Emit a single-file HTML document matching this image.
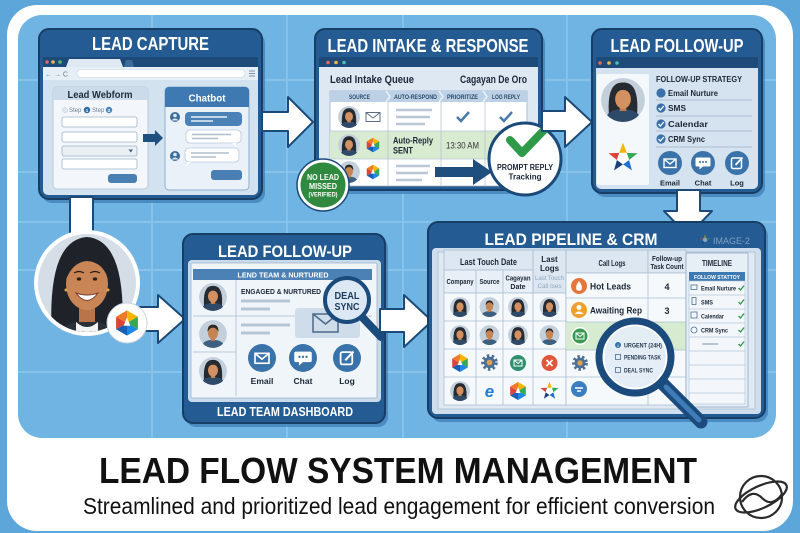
<!DOCTYPE html>
<html><head><meta charset="utf-8"><style>
html,body{margin:0;padding:0;background:#5ca6da;}
svg{display:block;}
text{font-family:"Liberation Sans",Arial,sans-serif;}
</style></head><body>
<svg width="800" height="533" viewBox="0 0 800 533" xmlns="http://www.w3.org/2000/svg">
<defs>
<clipPath id="cc"><circle r="12"/></clipPath>
<symbol id="w" viewBox="-12 -12 24 24"><g clip-path="url(#cc)">
<circle r="12" fill="#c3d0dc"/>
<path d="M-7.5 10 Q-9.5 -10 0 -9.5 Q9.5 -10 7.5 10 Z" fill="#262a31"/>
<path d="M-10 13 Q-10 5 0 5 Q10 5 10 13 Z" fill="#2f4a68"/>
<rect x="-1.8" y="2" width="3.6" height="4" fill="#c27c4b"/>
<ellipse cx="0" cy="-0.5" rx="4.3" ry="5.3" fill="#d39060"/>
<path d="M-4.6 -2 Q-4 -8 0 -7.5 Q4 -8 4.6 -2 Q3 -5.5 0 -5.5 Q-3 -5.5 -4.6 -2Z" fill="#262a31"/>
</g></symbol>
<symbol id="m" viewBox="-12 -12 24 24"><g clip-path="url(#cc)">
<circle r="12" fill="#c3d0dc"/>
<path d="M-10 13 Q-10 5 0 5 Q10 5 10 13 Z" fill="#3d5f80"/>
<rect x="-1.8" y="2" width="3.6" height="4" fill="#b8784a"/>
<ellipse cx="0" cy="-0.5" rx="4.3" ry="5.3" fill="#c68452"/>
<path d="M-4.6 -1.5 Q-5 -8 0 -8 Q5 -8 4.6 -1.5 Q3 -5.5 0 -5.5 Q-3 -5.5 -4.6 -1.5Z" fill="#2e2620"/>
</g></symbol>
<symbol id="hx" viewBox="-10 -10 20 20">
<path d="M0 0L0 -9L7.8 -4.5Z" fill="#f4b400"/>
<path d="M0 0L7.8 -4.5L7.8 4.5Z" fill="#34a853"/>
<path d="M0 0L7.8 4.5L0 9Z" fill="#1e88e5"/>
<path d="M0 0L0 9L-7.8 4.5Z" fill="#1a5fb4"/>
<path d="M0 0L-7.8 4.5L-7.8 -4.5Z" fill="#db4437"/>
<path d="M0 0L-7.8 -4.5L0 -9Z" fill="#ef7a2a"/>
<path d="M0 -4 L2.4 2 L-2.4 2Z" fill="#fff"/>
</symbol>
<symbol id="st" viewBox="-10.5 -10.5 21 21">
<path d="M-2.47 -3.4L0 -10L2.47 -3.4Z" fill="#f4b400"/>
<path d="M2.47 -3.4L9.51 -3.09L3.99 1.3Z" fill="#34a853"/>
<path d="M3.99 1.3L5.88 8.09L0 4.2Z" fill="#1e6fcf"/>
<path d="M0 4.2L-5.88 8.09L-3.99 1.3Z" fill="#1a3f7a"/>
<path d="M-3.99 1.3L-9.51 -3.09L-2.47 -3.4Z" fill="#db4437"/>
<path d="M-2.47 -3.4L2.47 -3.4L3.99 1.3L0 4.2L-3.99 1.3Z" fill="#fff"/>
</symbol>
<symbol id="gr" viewBox="-10 -10 20 20">
<circle r="7" fill="none" stroke="#4a6f96" stroke-width="3.5" stroke-dasharray="2.6 2.4"/>
<circle r="6" fill="#4a6f96"/><circle r="3" fill="#e0a050"/>
</symbol>
<symbol id="ce" viewBox="-12 -12 24 24"><circle r="12" fill="#3a72aa"/>
<rect x="-6" y="-4" width="12" height="8.5" fill="none" stroke="#fff" stroke-width="1.4"/><path d="M-6 -4 L0 1 L6 -4" fill="none" stroke="#fff" stroke-width="1.4"/></symbol>
<symbol id="cch" viewBox="-12 -12 24 24"><circle r="12" fill="#3a72aa"/>
<path d="M-6 -5.5 h12 a1.5 1.5 0 0 1 1.5 1.5 v6 a1.5 1.5 0 0 1 -1.5 1.5 h-6 l-3.5 3 v-3 h-2.5 a1.5 1.5 0 0 1 -1.5 -1.5 v-6 a1.5 1.5 0 0 1 1.5 -1.5z" fill="#fff"/>
<circle cx="-3" cy="-1" r="1" fill="#3a72aa"/><circle cx="0" cy="-1" r="1" fill="#3a72aa"/><circle cx="3" cy="-1" r="1" fill="#3a72aa"/></symbol>
<symbol id="cl" viewBox="-12 -12 24 24"><circle r="12" fill="#3a72aa"/>
<rect x="-5.5" y="-5" width="10" height="10.5" rx="1.5" fill="none" stroke="#fff" stroke-width="1.5"/><path d="M-1.5 2 L5.5 -5.5" stroke="#fff" stroke-width="1.8"/></symbol>
<clipPath id="bigc"><circle cx="87" cy="283" r="49"/></clipPath>
</defs>

<!-- background frame -->
<rect width="800" height="533" fill="#5ca6da"/>
<rect x="7" y="5" width="786" height="526" rx="30" fill="#ffffff"/>
<rect x="18" y="15" width="758" height="423" rx="24" fill="#70b4e3"/>
<g stroke="#8ec6ed" stroke-width="1.5">
<line x1="152" y1="15" x2="152" y2="438"/><line x1="287" y1="15" x2="287" y2="438"/>
<line x1="403" y1="15" x2="403" y2="438"/><line x1="567" y1="15" x2="567" y2="438"/>
<line x1="18" y1="80" x2="776" y2="80"/><line x1="18" y1="172" x2="776" y2="172"/>
<line x1="18" y1="222" x2="776" y2="222"/><line x1="18" y1="270" x2="776" y2="270"/>
<line x1="18" y1="372" x2="776" y2="372"/>
</g>

<!-- ===== LEAD CAPTURE ===== -->
<rect x="42" y="33" width="223" height="170" rx="10" fill="#3a7ab3" opacity=".7"/>
<rect x="39" y="29" width="223" height="170" rx="10" fill="#245b92" stroke="#173e66" stroke-width="2"/>
<text x="150.5" y="50" font-size="18" font-weight="bold" fill="#fff" text-anchor="middle" textLength="117" lengthAdjust="spacingAndGlyphs">LEAD CAPTURE</text>
<rect x="43" y="57" width="215" height="138" rx="5" fill="#d3e2ef"/>
<rect x="43" y="57" width="215" height="10" fill="#1d4a78"/>
<circle cx="47" cy="62" r="1.8" fill="#e36b5c"/><circle cx="53" cy="62" r="1.8" fill="#f0b84b"/><circle cx="60" cy="62" r="1.8" fill="#4cbf73"/>
<path d="M66 67 L69 59 L120 59 L123 67Z" fill="#dfe9f3"/>
<path d="M124 67 L126 60 L132 60 L134 67Z" fill="#3d6c9c"/>
<rect x="43" y="67" width="215" height="13" fill="#e6eef6"/>
<text x="45" y="76.5" font-size="7" fill="#6b7d90">← → C</text>
<rect x="77" y="69.5" width="168" height="8" rx="4" fill="#fff" stroke="#c5d3e0" stroke-width=".6"/>
<g stroke="#7d8fa3" stroke-width="1"><line x1="249" y1="71" x2="255" y2="71"/><line x1="249" y1="73.5" x2="255" y2="73.5"/><line x1="249" y1="76" x2="255" y2="76"/></g>
<!-- webform -->
<rect x="53" y="87" width="95" height="102" rx="4" fill="#f3f7fb" stroke="#b8cadb"/>
<path d="M53 100 V91 a4 4 0 0 1 4 -4 H144 a4 4 0 0 1 4 4 V100Z" fill="#cbdbea"/>
<text x="100" y="98" font-size="10.5" font-weight="bold" fill="#1e2b3a" text-anchor="middle" textLength="65" lengthAdjust="spacingAndGlyphs">Lead Webform</text>
<circle cx="65" cy="110" r="2.6" fill="#dfe6ee" stroke="#c0ccd8" stroke-width=".5"/>
<text x="69" y="112" font-size="6" fill="#6b7d90">Step</text>
<circle cx="87" cy="110" r="3.2" fill="#2f6aa3"/><text x="87" y="111.8" font-size="4.8" fill="#fff" text-anchor="middle" font-weight="bold">1</text>
<text x="92" y="112" font-size="6" fill="#6b7d90">Step</text>
<circle cx="109" cy="110" r="3.2" fill="#4a86bf"/><text x="109" y="111.8" font-size="4.8" fill="#fff" text-anchor="middle" font-weight="bold">2</text>
<g fill="#fff" stroke="#9fb3c7" stroke-width=".8">
<rect x="62" y="117" width="75" height="10" rx="2"/><rect x="62" y="132" width="75" height="10" rx="2"/>
<rect x="62" y="146" width="75" height="10" rx="2" fill="#e9eff5"/><rect x="62" y="159" width="75" height="10" rx="2"/>
</g>
<path d="M128.5 149.5 L133 149.5 L130.75 152.5Z" fill="#4a5d72"/>
<rect x="108" y="174" width="29" height="9" rx="3" fill="#4a7fb4"/>
<path d="M143 134 H155 V130 L163 138 L155 146 V142 H143Z" fill="#1f4f7f"/>
<!-- chatbot -->
<rect x="165" y="87" width="84" height="103" rx="4" fill="#eaf1f8" stroke="#8fb0cf"/>
<path d="M165 107 V91 a4 4 0 0 1 4 -4 H245 a4 4 0 0 1 4 4 V107Z" fill="#3f79b1"/>
<text x="207" y="101.5" font-size="10.5" font-weight="bold" fill="#fff" text-anchor="middle" textLength="37" lengthAdjust="spacingAndGlyphs">Chatbot</text>
<circle cx="175" cy="117" r="5" fill="#3e6d9a"/><circle cx="175" cy="115.5" r="1.8" fill="#dfe8f1"/><path d="M171.5 120.5 Q175 116.5 178.5 120.5Z" fill="#dfe8f1"/>
<rect x="185" y="112" width="57" height="14" rx="4" fill="#4a82b8"/>
<g stroke="#e8f0f8" stroke-width="1.4"><line x1="191" y1="117" x2="227" y2="117"/><line x1="191" y1="121" x2="213" y2="121"/></g>
<rect x="186" y="130" width="55" height="13" rx="4" fill="#fff" stroke="#b9cadb" stroke-width=".8"/>
<path d="M232 143 L236 147 L236 143Z" fill="#fff"/>
<g stroke="#b0bfce" stroke-width="1.4"><line x1="192" y1="134.5" x2="231" y2="134.5"/><line x1="192" y1="138.5" x2="218" y2="138.5"/></g>
<circle cx="175" cy="156" r="5" fill="#3e6d9a"/><circle cx="175" cy="154.5" r="1.8" fill="#dfe8f1"/><path d="M171.5 159.5 Q175 155.5 178.5 159.5Z" fill="#dfe8f1"/>
<rect x="185" y="148" width="54" height="14" rx="4" fill="#fff" stroke="#b9cadb" stroke-width=".8"/>
<path d="M187 162 L186 166 L191 162Z" fill="#fff"/>
<g stroke="#b0bfce" stroke-width="1.4"><line x1="191" y1="153" x2="229" y2="153"/><line x1="191" y1="157" x2="216" y2="157"/></g>
<rect x="211" y="170" width="31" height="10" rx="3" fill="#4a7fb4"/>

<!-- arrow 1 -->
<path d="M262 112 H288 V97 L313 122 L288 147 V131 H262Z" fill="#fff" stroke="#1b4a78" stroke-width="2" stroke-linejoin="round"/>

<!-- ===== LEAD INTAKE ===== -->
<rect x="318" y="33" width="227" height="161" rx="10" fill="#3a7ab3" opacity=".7"/>
<rect x="315" y="29" width="227" height="161" rx="10" fill="#245b92" stroke="#173e66" stroke-width="2"/>
<text x="428" y="52" font-size="18" font-weight="bold" fill="#fff" text-anchor="middle" textLength="201" lengthAdjust="spacingAndGlyphs">LEAD INTAKE &amp; RESPONSE</text>
<rect x="319" y="57" width="219" height="129" rx="5" fill="#dde8f3"/>
<rect x="319" y="57" width="219" height="10" fill="#1d4a78"/>
<circle cx="328" cy="62.5" r="1.8" fill="#e36b5c"/><circle cx="336" cy="62.5" r="1.8" fill="#f0b84b"/><circle cx="344" cy="62.5" r="1.8" fill="#4cbfb0"/>
<text x="330" y="83" font-size="11" font-weight="bold" fill="#1b2636" textLength="84" lengthAdjust="spacingAndGlyphs">Lead Intake Queue</text>
<text x="460" y="83" font-size="11" font-weight="bold" fill="#1b2636" textLength="67" lengthAdjust="spacingAndGlyphs">Cagayan De Oro</text>
<rect x="330" y="91" width="197" height="95" fill="#fff" stroke="#9db4cb" stroke-width=".8"/>
<rect x="330" y="91" width="197" height="11" fill="#bcd1e6"/>
<rect x="330" y="131" width="197" height="28" fill="#d8eacf"/>
<g stroke="#b6c6d6" stroke-width=".8"><line x1="388" y1="102" x2="388" y2="186"/><line x1="441" y1="102" x2="441" y2="186"/><line x1="485" y1="102" x2="485" y2="186"/>
<line x1="330" y1="131" x2="527" y2="131"/><line x1="330" y1="159" x2="527" y2="159"/></g>
<g fill="none" stroke="#f2f7fb" stroke-width="1.3"><path d="M386 91 L390 96.5 L386 102"/><path d="M439 91 L443 96.5 L439 102"/><path d="M483 91 L487 96.5 L483 102"/></g>
<g font-size="6" font-weight="bold" fill="#2c4b6c" text-anchor="middle">
<text x="359.5" y="98.8" textLength="21" lengthAdjust="spacingAndGlyphs">SOURCE</text>
<text x="415.5" y="98.8" textLength="43" lengthAdjust="spacingAndGlyphs">AUTO-RESPOND</text>
<text x="462.5" y="98.8" textLength="31" lengthAdjust="spacingAndGlyphs">PRIORITIZE</text>
<text x="506" y="98.8" textLength="28" lengthAdjust="spacingAndGlyphs">LOG REPLY</text>
</g>
<use href="#w" x="338" y="106" width="22" height="22"/>
<rect x="366" y="112.5" width="14" height="9" fill="#fff" stroke="#5a6f85" stroke-width="1"/><path d="M366 112.5 L373 118 L380 112.5" fill="none" stroke="#5a6f85" stroke-width="1"/>
<g stroke="#b9c7d6" stroke-width="2.5"><line x1="396" y1="110" x2="432" y2="110"/><line x1="396" y1="117" x2="430" y2="117"/><line x1="396" y1="124" x2="425" y2="124"/></g>
<g fill="none" stroke="#4a7aa8" stroke-width="2.5"><path d="M457 117 L461 121 L469 112"/><path d="M500 117 L504 121 L512 112"/></g>
<use href="#w" x="338" y="134" width="22" height="22"/>
<use href="#hx" x="365" y="137" width="16" height="16"/>
<text x="393" y="143.5" font-size="9.5" font-weight="bold" fill="#1b2636" textLength="40" lengthAdjust="spacingAndGlyphs">Auto-Reply</text>
<text x="393" y="153.5" font-size="9.5" font-weight="bold" fill="#1b2636" textLength="20" lengthAdjust="spacingAndGlyphs">SENT</text>
<text x="446" y="148.5" font-size="9.5" fill="#333" textLength="33" lengthAdjust="spacingAndGlyphs">13:30 AM</text>
<use href="#m" x="338" y="161" width="22" height="22"/>
<use href="#hx" x="365" y="164" width="16" height="16"/>
<g stroke="#b9c7d6" stroke-width="2.5"><line x1="396" y1="166" x2="430" y2="166"/><line x1="396" y1="173" x2="428" y2="173"/><line x1="396" y1="180" x2="422" y2="180"/></g>
<path d="M435 167 H473 V159 L492 172 L473 185 V177 H435Z" fill="#1f4f7f"/>
<!-- prompt reply -->
<circle cx="525" cy="159" r="36" fill="#fff" stroke="#1b4a78" stroke-width="3"/>
<path d="M510 140 L522 153 L547 127" fill="none" stroke="#2e9a48" stroke-width="8" stroke-linecap="round" stroke-linejoin="round"/>
<text x="525" y="170" font-size="8" font-weight="bold" fill="#1b2636" text-anchor="middle" textLength="56" lengthAdjust="spacingAndGlyphs">PROMPT REPLY</text>
<text x="525" y="179.5" font-size="8" font-weight="bold" fill="#1b2636" text-anchor="middle" textLength="33" lengthAdjust="spacingAndGlyphs">Tracking</text>
<!-- no lead missed -->
<circle cx="323" cy="185" r="26" fill="#fff" stroke="#1b4a78" stroke-width="1.5"/>
<circle cx="323" cy="185" r="22.5" fill="#2f8a3f"/>
<g font-weight="bold" fill="#fff" text-anchor="middle">
<text x="323" y="180" font-size="8.5" textLength="32" lengthAdjust="spacingAndGlyphs">NO LEAD</text>
<text x="323" y="189" font-size="8.5" textLength="28" lengthAdjust="spacingAndGlyphs">MISSED</text>
<text x="323" y="196.5" font-size="6.5" textLength="29" lengthAdjust="spacingAndGlyphs">(VERIFIED)</text>
</g>

<!-- arrow 2 -->
<path d="M542 111 H565 V97 L592 122 L565 147 V131 H542Z" fill="#fff" stroke="#1b4a78" stroke-width="2" stroke-linejoin="round"/>

<!-- ===== LEAD FOLLOW-UP (top) ===== -->
<rect x="595" y="33" width="170" height="164" rx="10" fill="#3a7ab3" opacity=".7"/>
<rect x="592" y="29" width="170" height="164" rx="10" fill="#245b92" stroke="#173e66" stroke-width="2"/>
<text x="677" y="52" font-size="18" font-weight="bold" fill="#fff" text-anchor="middle" textLength="133" lengthAdjust="spacingAndGlyphs">LEAD FOLLOW-UP</text>
<rect x="596" y="57" width="162" height="132" rx="5" fill="#d5e3f0"/>
<rect x="596" y="57" width="162" height="11" fill="#1d4a78"/>
<circle cx="600" cy="63" r="1.8" fill="#e36b5c"/><circle cx="609" cy="63" r="1.8" fill="#f0b84b"/><circle cx="617" cy="63" r="1.8" fill="#4cbfb0"/>
<rect x="597" y="74" width="52" height="111" rx="2" fill="#f5f8fb"/>
<use href="#w" x="601" y="78" width="44" height="44"/>
<use href="#st" x="607" y="142" width="32" height="32"/>
<text x="656" y="82" font-size="8" font-weight="bold" fill="#1b2636" textLength="86" lengthAdjust="spacingAndGlyphs">FOLLOW-UP STRATEGY</text>
<circle cx="661" cy="93" r="4.6" fill="#3a73ab"/>
<text x="668" y="96" font-size="8.5" font-weight="bold" fill="#1b2636" textLength="50" lengthAdjust="spacingAndGlyphs">Email Nurture</text>
<g fill="#3a73ab"><circle cx="661" cy="108" r="4.6"/><circle cx="661" cy="124" r="4.6"/><circle cx="661" cy="139" r="4.6"/></g>
<g fill="none" stroke="#fff" stroke-width="1.3"><path d="M658.5 108 L660.3 110 L663.8 106"/><path d="M658.5 124 L660.3 126 L663.8 122"/><path d="M658.5 139 L660.3 141 L663.8 137"/></g>
<text x="668" y="111" font-size="8.5" font-weight="bold" fill="#1b2636" textLength="18" lengthAdjust="spacingAndGlyphs">SMS</text>
<text x="668" y="127" font-size="8.5" font-weight="bold" fill="#1b2636" textLength="40" lengthAdjust="spacingAndGlyphs">Calendar</text>
<text x="668" y="142" font-size="8.5" font-weight="bold" fill="#1b2636" textLength="37" lengthAdjust="spacingAndGlyphs">CRM Sync</text>
<g stroke="#9fb3c8" stroke-width=".8"><line x1="656" y1="100" x2="752" y2="100"/><line x1="656" y1="116" x2="752" y2="116"/><line x1="656" y1="131" x2="752" y2="131"/><line x1="656" y1="147" x2="752" y2="147"/></g>
<use href="#ce" x="658" y="151" width="24" height="24"/>
<use href="#cch" x="691" y="151" width="24" height="24"/>
<use href="#cl" x="725" y="151" width="24" height="24"/>
<g font-size="7.5" font-weight="bold" fill="#1b2636" text-anchor="middle">
<text x="670" y="185.5">Email</text><text x="703" y="185.5">Chat</text><text x="737" y="185.5">Log</text></g>

<!-- arrow 3 down -->
<path d="M677 190 H700 V211 H712 L688 236 L664 211 H677Z" fill="#fff" stroke="#1b4a78" stroke-width="2" stroke-linejoin="round"/>

<!-- left connector + avatar -->
<rect x="70" y="197" width="23" height="42" fill="#fff" stroke="#1b4a78" stroke-width="2"/>
<path d="M138 307 H158 V295 L185 319 L158 343 V331 H138Z" fill="#fff" stroke="#1b4a78" stroke-width="2" stroke-linejoin="round"/>
<circle cx="87" cy="283" r="53" fill="#fff"/>
<g clip-path="url(#bigc)">
<rect x="36" y="232" width="102" height="102" fill="#d5dee7"/>
<path d="M52 340 Q46 240 87 237 Q128 240 122 340Z" fill="#1f2329"/>
<path d="M55 345 Q58 322 87 320 Q116 322 119 345Z" fill="#2a2f38"/>
<path d="M76 322 Q87 332 98 322 L98 340 L76 340Z" fill="#f2f2f2"/>
<rect x="79" y="300" width="16" height="22" fill="#b9744a"/>
<ellipse cx="87" cy="284" rx="21" ry="26" fill="#c98556"/>
<path d="M65 282 Q64 252 87 251 Q110 252 109 282 Q104 262 87 261 Q72 262 65 282Z" fill="#1f2329"/>
<ellipse cx="79" cy="279" rx="2.2" ry="1.6" fill="#2a1d18"/><ellipse cx="95" cy="279" rx="2.2" ry="1.6" fill="#2a1d18"/>
<path d="M74 273 Q79 270 84 273" fill="none" stroke="#2a1d18" stroke-width="1.2"/><path d="M90 273 Q95 270 100 273" fill="none" stroke="#2a1d18" stroke-width="1.2"/>
<path d="M76 293 Q87 308 98 293 Q87 297 76 293Z" fill="#fff" stroke="#7a3b2a" stroke-width="1"/>
<circle cx="66" cy="290" r="1.5" fill="#d9a84a"/><circle cx="108" cy="290" r="1.5" fill="#d9a84a"/>
</g>
<circle cx="127" cy="323" r="20" fill="#fff" stroke="#c9d4de" stroke-width="1"/>
<use href="#hx" x="113" y="309" width="28" height="28"/>

<!-- ===== LEAD FOLLOW-UP (bottom) ===== -->
<rect x="186" y="238" width="202" height="189" rx="10" fill="#3a7ab3" opacity=".7"/>
<rect x="183" y="234" width="202" height="189" rx="10" fill="#245b92" stroke="#173e66" stroke-width="2"/>
<text x="285" y="257" font-size="16.5" font-weight="bold" fill="#fff" text-anchor="middle" textLength="134" lengthAdjust="spacingAndGlyphs">LEAD FOLLOW-UP</text>
<rect x="188" y="260" width="193" height="142" rx="4" fill="#c9daea"/>
<rect x="191" y="263" width="186" height="135" rx="2" fill="#f0f5fa" stroke="#9bb3cb" stroke-width=".8"/>
<rect x="193" y="269" width="179" height="11" fill="#4c81b6"/>
<text x="283" y="277.5" font-size="7" font-weight="bold" fill="#fff" text-anchor="middle" textLength="91" lengthAdjust="spacingAndGlyphs">LEND TEAM &amp; NURTURED</text>
<g stroke="#a9bdd1" stroke-width=".8"><line x1="236" y1="280" x2="236" y2="396"/><line x1="193" y1="316" x2="372" y2="316"/><line x1="193" y1="352" x2="236" y2="352"/></g>
<use href="#w" x="199" y="283" width="28" height="28"/>
<use href="#m" x="199" y="320" width="28" height="28"/>
<use href="#w" x="199" y="357" width="28" height="28"/>
<text x="241" y="294" font-size="7.5" font-weight="bold" fill="#1b2636" textLength="80" lengthAdjust="spacingAndGlyphs">ENGAGED &amp; NURTURED</text>
<g stroke="#b6c6d6" stroke-width="3"><line x1="241" y1="301" x2="290" y2="301"/><line x1="241" y1="309" x2="270" y2="309"/><line x1="241" y1="325" x2="290" y2="325"/><line x1="241" y1="333" x2="270" y2="333"/></g>
<rect x="295" y="308" width="65" height="30" rx="3" fill="#cfdcea"/>
<rect x="313" y="314" width="25" height="18" fill="none" stroke="#4a6a8a" stroke-width="1.5"/><path d="M313 314 L325.5 324 L338 314" fill="none" stroke="#4a6a8a" stroke-width="1.5"/>
<use href="#ce" x="248" y="344" width="28" height="28"/>
<use href="#cch" x="289" y="344" width="28" height="28"/>
<use href="#cl" x="333" y="344" width="28" height="28"/>
<g font-size="8.5" font-weight="bold" fill="#1b2636" text-anchor="middle">
<text x="262" y="384">Email</text><text x="303" y="384">Chat</text><text x="347" y="384">Log</text></g>
<line x1="362" y1="317" x2="381" y2="337" stroke="#1b4a7c" stroke-width="8" stroke-linecap="round"/>
<circle cx="347" cy="300" r="22" fill="#dce8f4" stroke="#1b4a7c" stroke-width="4"/>
<g font-size="10" font-weight="bold" fill="#1b3a5c" text-anchor="middle">
<text x="347" y="299" textLength="25" lengthAdjust="spacingAndGlyphs">DEAL</text>
<text x="347" y="310" textLength="25" lengthAdjust="spacingAndGlyphs">SYNC</text></g>
<text x="285" y="416" font-size="13" font-weight="bold" fill="#fff" text-anchor="middle" textLength="136" lengthAdjust="spacingAndGlyphs">LEAD TEAM DASHBOARD</text>

<!-- arrow 4 -->
<path d="M380 309 H404 V295 L432 321 L404 347 V332 H380Z" fill="#fff" stroke="#1b4a78" stroke-width="2" stroke-linejoin="round"/>

<!-- ===== LEAD PIPELINE & CRM ===== -->
<rect x="431" y="226" width="337" height="196" rx="10" fill="#3a7ab3" opacity=".7"/>
<rect x="428" y="222" width="337" height="196" rx="10" fill="#245b92" stroke="#173e66" stroke-width="2"/>
<text x="571" y="245" font-size="17" font-weight="bold" fill="#fff" text-anchor="middle" textLength="173" lengthAdjust="spacingAndGlyphs">LEAD PIPELINE &amp; CRM</text>
<use href="#st" x="699" y="234" width="12" height="12" opacity=".45"/>
<text x="713" y="244" font-size="9" fill="#7fa0c2" textLength="37" lengthAdjust="spacingAndGlyphs">IMAGE-2</text>
<rect x="432" y="248" width="329" height="166" rx="4" fill="#cfdeed"/>
<rect x="438" y="252" width="317" height="157" fill="#e0e9f2" stroke="#a9bed2" stroke-width=".8"/>
<!-- left table -->
<rect x="444" y="250" width="89" height="20" fill="#dde7f1" stroke="#a9bed2" stroke-width=".8"/>
<rect x="533" y="250" width="33" height="43" fill="#dde7f1" stroke="#a9bed2" stroke-width=".8"/>
<rect x="444" y="270" width="89" height="23" fill="#e8eff6" stroke="#a9bed2" stroke-width=".8"/>
<rect x="444" y="293" width="122" height="112" fill="#f6f9fc" stroke="#a9bed2" stroke-width=".8"/>
<g stroke="#a9bed2" stroke-width=".8">
<line x1="476" y1="270" x2="476" y2="405"/><line x1="503" y1="270" x2="503" y2="405"/><line x1="533" y1="270" x2="533" y2="405"/>
<line x1="444" y1="321" x2="566" y2="321"/><line x1="444" y1="349" x2="566" y2="349"/><line x1="444" y1="377" x2="566" y2="377"/></g>
<text x="488.5" y="265" font-size="9" font-weight="bold" fill="#1b2636" text-anchor="middle" textLength="57" lengthAdjust="spacingAndGlyphs">Last Touch Date</text>
<g font-size="7" font-weight="bold" fill="#1b2636" text-anchor="middle">
<text x="460" y="284" textLength="27" lengthAdjust="spacingAndGlyphs">Company</text>
<text x="489.5" y="284" textLength="20" lengthAdjust="spacingAndGlyphs">Source</text>
<text x="518" y="280.5" textLength="25" lengthAdjust="spacingAndGlyphs">Cagayan</text>
<text x="518" y="289">Date</text>
<text x="549.5" y="262" font-size="8">Last</text>
<text x="549.5" y="271" font-size="8">Logs</text></g>
<g font-size="6" fill="#8ea5bc" text-anchor="middle">
<text x="549.5" y="280" textLength="29" lengthAdjust="spacingAndGlyphs">Last Touch</text>
<text x="549.5" y="288" textLength="24" lengthAdjust="spacingAndGlyphs">Call Ises</text></g>
<use href="#w" x="450" y="297" width="20" height="20"/><use href="#m" x="479.5" y="297" width="20" height="20"/><use href="#w" x="508" y="297" width="20" height="20"/><use href="#w" x="539.5" y="297" width="20" height="20"/>
<use href="#w" x="450" y="325" width="20" height="20"/><use href="#m" x="479.5" y="325" width="20" height="20"/><use href="#w" x="508" y="325" width="20" height="20"/><use href="#m" x="539.5" y="325" width="20" height="20"/>
<use href="#hx" x="450" y="353" width="20" height="20"/><use href="#gr" x="480" y="353" width="19" height="19"/>
<circle cx="518" cy="363" r="8" fill="#2f8f6f"/><rect x="514" y="360" width="8" height="6" fill="none" stroke="#fff" stroke-width="1"/><path d="M514 360 L518 363.5 L522 360" fill="none" stroke="#fff" stroke-width="1"/>
<circle cx="549.5" cy="363" r="8" fill="#e0573e"/><path d="M546.5 360 L552.5 366 M552.5 360 L546.5 366" stroke="#fff" stroke-width="1.6"/>
<use href="#w" x="450" y="381" width="20" height="20"/>
<text x="489.5" y="397" font-size="17" font-weight="bold" font-style="italic" fill="#1f7fd0" text-anchor="middle">e</text>
<use href="#hx" x="508" y="381" width="20" height="20"/><use href="#st" x="539.5" y="381" width="20" height="20"/>
<!-- call logs -->
<rect x="566" y="250" width="82" height="23" fill="#dde7f1" stroke="#a9bed2" stroke-width=".8"/>
<rect x="648" y="250" width="38" height="23" fill="#dde7f1" stroke="#a9bed2" stroke-width=".8"/>
<rect x="566" y="273" width="120" height="132" fill="#f6f9fc" stroke="#a9bed2" stroke-width=".8"/>
<rect x="566" y="322" width="120" height="28" fill="#d6ebcf"/>
<g stroke="#a9bed2" stroke-width=".8"><line x1="648" y1="273" x2="648" y2="405"/>
<line x1="566" y1="298" x2="686" y2="298"/><line x1="566" y1="322" x2="686" y2="322"/><line x1="566" y1="350" x2="686" y2="350"/><line x1="566" y1="377" x2="686" y2="377"/></g>
<text x="612" y="266" font-size="8" font-weight="bold" fill="#1b2636" text-anchor="middle" textLength="27" lengthAdjust="spacingAndGlyphs">Call Logs</text>
<text x="667" y="261" font-size="7" font-weight="bold" fill="#1b2636" text-anchor="middle" textLength="30" lengthAdjust="spacingAndGlyphs">Follow-up</text>
<text x="667" y="269" font-size="7" font-weight="bold" fill="#1b2636" text-anchor="middle" textLength="33" lengthAdjust="spacingAndGlyphs">Task Count</text>
<circle cx="579" cy="286" r="8" fill="#e8743a"/><path d="M579 281 Q583 286 581.5 290 Q579 291.5 576.5 290 Q575 286 579 281Z" fill="#fff"/>
<text x="590" y="289.5" font-size="9.5" font-weight="bold" fill="#1b2636" textLength="41" lengthAdjust="spacingAndGlyphs">Hot Leads</text>
<text x="667" y="290" font-size="9" font-weight="bold" fill="#1b2636" text-anchor="middle">4</text>
<circle cx="579" cy="310" r="8" fill="#f0a030"/><circle cx="579" cy="307.5" r="2.5" fill="#fff"/><path d="M574.5 314 Q579 309 583.5 314Z" fill="#fff"/>
<text x="590" y="313.5" font-size="9.5" font-weight="bold" fill="#1b2636" textLength="52" lengthAdjust="spacingAndGlyphs">Awaiting Rep</text>
<text x="667" y="314" font-size="9" font-weight="bold" fill="#1b2636" text-anchor="middle">3</text>
<circle cx="580" cy="336" r="9" fill="#fff"/><circle cx="580" cy="336" r="7.5" fill="#3a9a52"/>
<rect x="576" y="333" width="8" height="6" fill="none" stroke="#fff" stroke-width="1"/><path d="M576 333 L580 336.5 L584 333" fill="none" stroke="#fff" stroke-width="1"/>
<use href="#gr" x="571" y="354" width="18" height="18"/>
<circle cx="579" cy="389" r="8" fill="#3b7fc0"/><path d="M575 388 h8 M577 391 h4" stroke="#fff" stroke-width="1.5"/>
<!-- timeline -->
<rect x="686" y="253" width="62" height="154" fill="#e6eef6" stroke="#8fa9c3" stroke-width=".8"/>
<text x="717" y="266" font-size="8" font-weight="bold" fill="#1b2636" text-anchor="middle" textLength="30" lengthAdjust="spacingAndGlyphs">TIMELINE</text>
<rect x="689" y="272" width="56" height="9" fill="#3f79b1"/>
<text x="717" y="279" font-size="5.5" font-weight="bold" fill="#fff" text-anchor="middle" textLength="46" lengthAdjust="spacingAndGlyphs">FOLLOW STATTOY</text>
<rect x="689" y="281" width="56" height="123" fill="#f3f7fb" stroke="#a9bed2" stroke-width=".6"/>
<g stroke="#b6c6d6" stroke-width=".7"><line x1="689" y1="295" x2="745" y2="295"/><line x1="689" y1="309" x2="745" y2="309"/><line x1="689" y1="323" x2="745" y2="323"/><line x1="689" y1="337" x2="745" y2="337"/><line x1="689" y1="351" x2="745" y2="351"/><line x1="689" y1="365" x2="745" y2="365"/><line x1="689" y1="379" x2="745" y2="379"/><line x1="689" y1="393" x2="745" y2="393"/></g>
<g fill="none" stroke="#4a6f96" stroke-width=".8"><rect x="691" y="285" width="6" height="4.5"/><rect x="692" y="297.5" width="4" height="7"/><rect x="691" y="312" width="6" height="6"/><circle cx="694" cy="330" r="3"/></g>
<g font-size="6.5" font-weight="bold" fill="#1b2636">
<text x="701" y="290.5" textLength="35" lengthAdjust="spacingAndGlyphs">Email Nurture</text>
<text x="701" y="304.5" textLength="12" lengthAdjust="spacingAndGlyphs">SMS</text>
<text x="701" y="318.5" textLength="23" lengthAdjust="spacingAndGlyphs">Calendar</text>
<text x="701" y="332.5" textLength="27" lengthAdjust="spacingAndGlyphs">CRM Sync</text></g>
<line x1="702" y1="344" x2="718" y2="344" stroke="#9fb3c8" stroke-width="1.5"/>
<g fill="none" stroke="#3a9a52" stroke-width="1.4"><path d="M738.5 288 L740.5 290 L744 285.5"/><path d="M738.5 302 L740.5 304 L744 299.5"/><path d="M738.5 316 L740.5 318 L744 313.5"/><path d="M738.5 330 L740.5 332 L744 327.5"/><path d="M738.5 344 L740.5 346 L744 341.5"/></g>
<!-- magnifier -->
<line x1="662" y1="383" x2="701" y2="422" stroke="#1b4a7c" stroke-width="13" stroke-linecap="round"/>
<line x1="666" y1="387" x2="699" y2="420" stroke="#3f7cb8" stroke-width="5" stroke-linecap="round"/>
<circle cx="635" cy="357" r="36" fill="#e3edf7" fill-opacity=".94" stroke="#1b4a7c" stroke-width="7"/>
<circle cx="635" cy="357" r="31.5" fill="none" stroke="#fff" stroke-width="1.5"/>
<circle cx="618" cy="345" r="3" fill="#3a73ab"/><text x="618" y="347" font-size="4" fill="#fff" text-anchor="middle" font-weight="bold">i</text>
<rect x="615.5" y="354.5" width="5" height="5" fill="none" stroke="#4a6f96" stroke-width=".8"/>
<rect x="615.5" y="367.5" width="5" height="5" fill="none" stroke="#4a6f96" stroke-width=".8"/>
<g font-size="6.5" font-weight="bold" fill="#2a3b50">
<text x="624" y="347.5" textLength="38" lengthAdjust="spacingAndGlyphs">URGENT (24H)</text>
<text x="624" y="359.5" textLength="37" lengthAdjust="spacingAndGlyphs">PENDING TASK</text>
<text x="624" y="372.5" textLength="29" lengthAdjust="spacingAndGlyphs">DEAL SYNC</text></g>

<!-- ===== TITLE ===== -->
<text x="99" y="483" font-size="36" font-weight="bold" fill="#111" textLength="598" lengthAdjust="spacingAndGlyphs">LEAD FLOW SYSTEM MANAGEMENT</text>
<text x="83" y="514" font-size="23" fill="#111" textLength="632" lengthAdjust="spacingAndGlyphs">Streamlined and prioritized lead engagement for efficient conversion</text>
<g fill="none" stroke="#2a2a2a" stroke-width="2.2">
<circle cx="761" cy="497" r="21"/>
<ellipse cx="761" cy="497" rx="28" ry="11" transform="rotate(-25 761 497)"/>
<path d="M742 502 Q752 488 762 498 Q772 508 782 494"/>
</g>
</svg>
</body></html>
